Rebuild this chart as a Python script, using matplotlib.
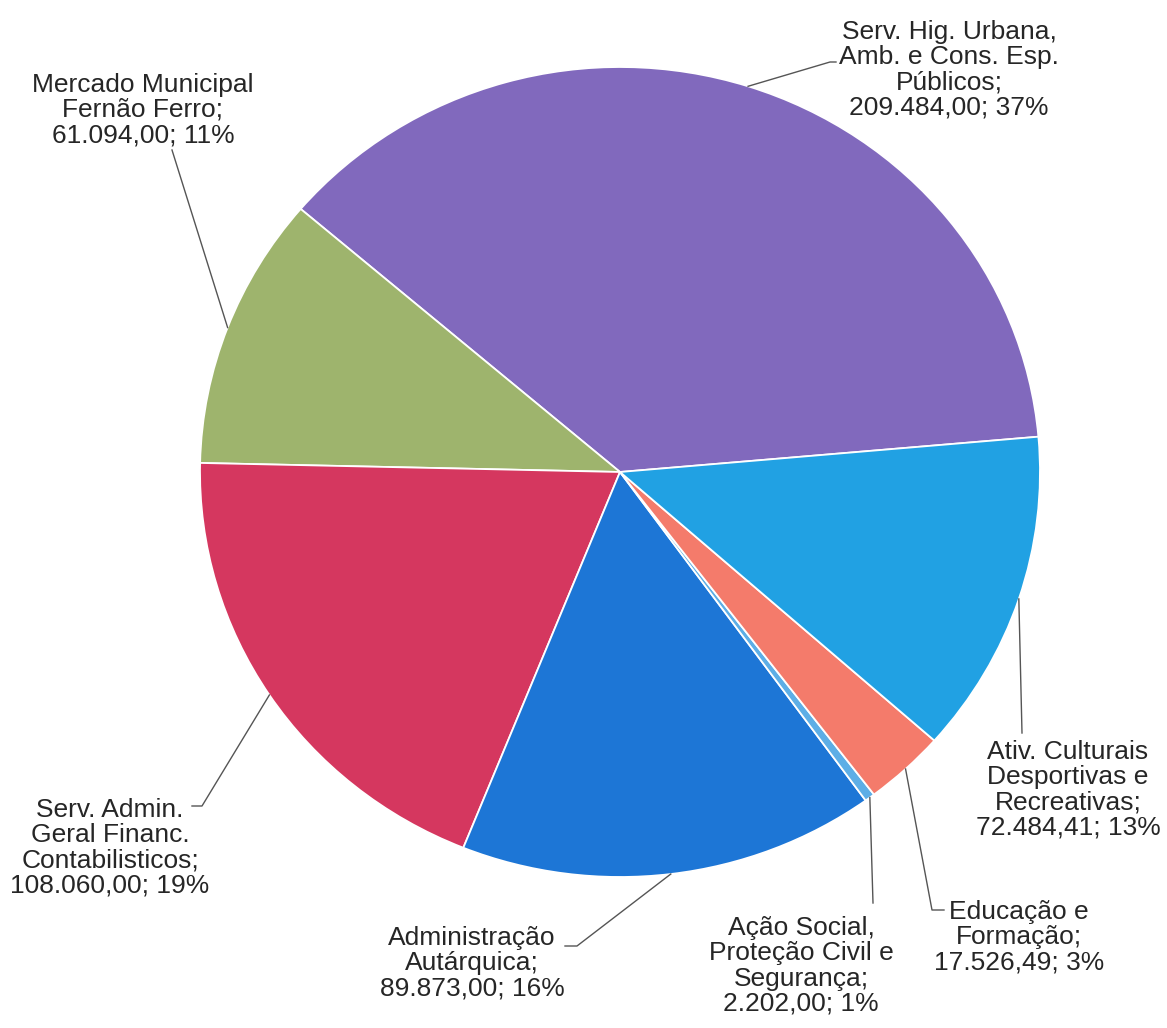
import matplotlib
matplotlib.use("Agg")
import matplotlib.pyplot as plt
import numpy as np

# data
names = [
    "Serv. Hig. Urbana,\nAmb. e Cons. Esp.\nPúblicos",
    "Mercado Municipal\nFernão Ferro",
    "Serv. Admin.\nGeral Financ.\nContabilisticos",
    "Administração\nAutárquica",
    "Ação Social,\nProteção Civil e\nSegurança",
    "Educação e\nFormação",
    "Ativ. Culturais\nDesportivas e\nRecreativas",
]
values = [209484.00, 61094.00, 108060.00, 89873.00, 2202.00, 17526.49, 72484.41]
percents = [37, 11, 19, 16, 1, 3, 13]
colors = ["#8169BD", "#9EB46D", "#D5375F", "#1D76D6", "#5DAEE6", "#F47B6B", "#21A1E3"]

W, H = 1167, 1028
CX, CY, RX, RY = 620, 472, 420, 405   # pie centre / radii in pixels (scan is slightly squashed)

# label layout (pixels from top-left): text centre and leader line route after the rim point
label_pos = [(949, 70), (143, 110), (110, 848), (472, 963), (801, 966), (1019, 937), (1068, 790)]
leaders = [
    [(830, 62), (836, 62)],
    [(172, 150)],
    [(202, 806), (192, 806)],
    [(577, 946), (565, 946)],
    [(873, 903)],
    [(932, 910), (944, 910)],
    [(1022, 733)],
]


def fmt_pt(v):
    s = f"{v:,.2f}"
    return s.replace(",", "X").replace(".", ",").replace("X", ".")


def px(x, y):
    return (x - CX) / RX, (CY - y) / RY


plt.rcParams["font.family"] = ["Liberation Sans", "DejaVu Sans"]

fig = plt.figure(figsize=(W / 100, H / 100), dpi=100)
ax = fig.add_axes([0, 0, 1, 1])

wedges, _ = ax.pie(values, colors=colors, startangle=5, counterclock=True,
                   radius=1, center=(0, 0),
                   wedgeprops=dict(edgecolor="white", linewidth=1.3))

ax.set_aspect("auto")
ax.set_xlim(px(0, 0)[0], px(W, 0)[0])
ax.set_ylim(px(0, H)[1], px(0, 0)[1])
ax.axis("off")

for i, w in enumerate(wedges):
    ang = np.deg2rad((w.theta1 + w.theta2) / 2)
    pts = [(np.cos(ang), np.sin(ang))] + [px(*p) for p in leaders[i]]
    xs, ys = zip(*pts)
    ax.plot(xs, ys, color="#555555", lw=1.0)

    txt = f"{names[i]};\n{fmt_pt(values[i])}; {percents[i]}%"
    tx, ty = px(*label_pos[i])
    ax.text(tx, ty, txt, ha="center", va="center", multialignment="center",
            fontsize=19, color="#262626", linespacing=1.07)

fig.savefig("out.png", dpi=100)
